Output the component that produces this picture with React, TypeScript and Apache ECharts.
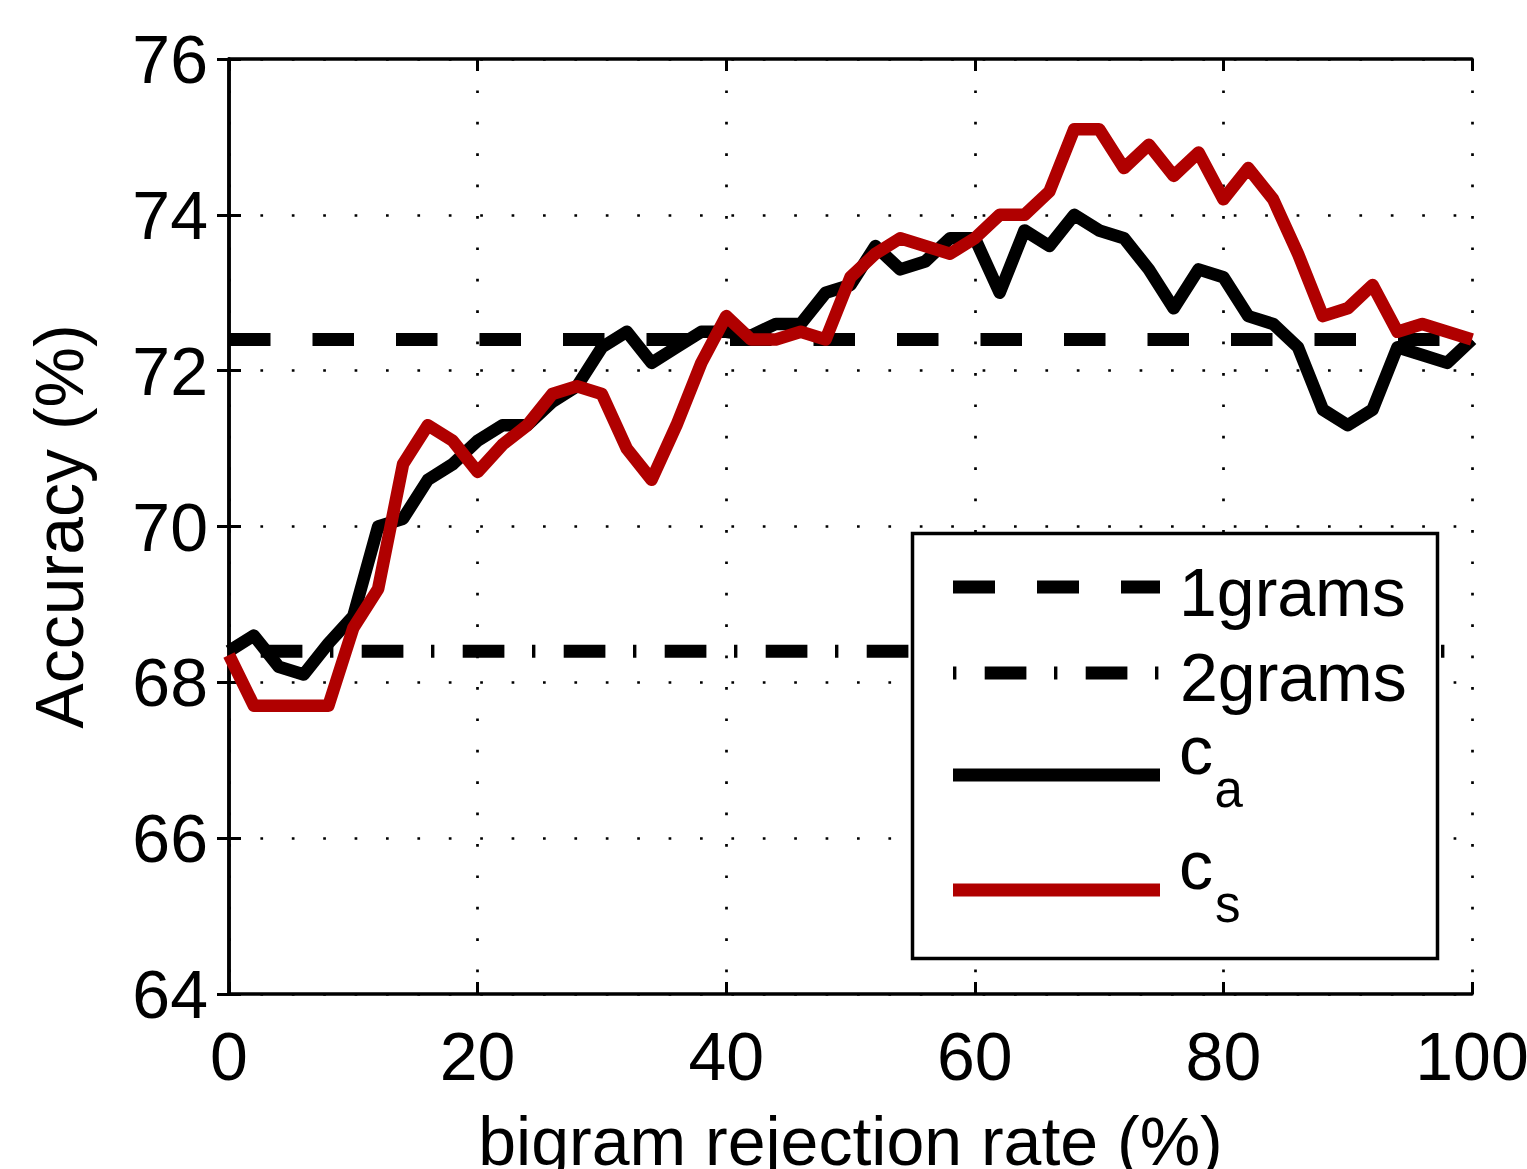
import React, { useEffect, useRef } from "react";
import * as echarts from "echarts";

// bigram rejection rate (%)
const rejectionRates = [
  0, 2, 4, 6, 8, 10, 12, 14, 16, 18, 20, 22, 24, 26, 28, 30, 32, 34, 36, 38, 40,
  42, 44, 46, 48, 50, 52, 54, 56, 58, 60, 62, 64, 66, 68, 70, 72, 74, 76, 78, 80,
  82, 84, 86, 88, 90, 92, 94, 96, 98, 100,
];

// accuracy (%) for c_a
const caValues = [
  68.4, 68.6, 68.2, 68.1, 68.5, 68.85, 70.0, 70.1, 70.6, 70.8, 71.1, 71.3, 71.3,
  71.6, 71.8, 72.3, 72.5, 72.1, 72.3, 72.5, 72.5, 72.45, 72.6, 72.6, 73.0, 73.1,
  73.6, 73.3, 73.4, 73.7, 73.7, 73.0, 73.8, 73.6, 74.0, 73.8, 73.7, 73.3, 72.8,
  73.3, 73.2, 72.7, 72.6, 72.3, 71.5, 71.3, 71.5, 72.3, 72.2, 72.1, 72.4,
];

// accuracy (%) for c_s
const csValues = [
  68.35, 67.7, 67.7, 67.7, 67.7, 68.7, 69.2, 70.8, 71.3, 71.1, 70.7, 71.05, 71.3,
  71.7, 71.8, 71.7, 71.0, 70.6, 71.3, 72.1, 72.7, 72.4, 72.4, 72.5, 72.4, 73.2,
  73.5, 73.7, 73.6, 73.5, 73.7, 74.0, 74.0, 74.3, 75.1, 75.1, 74.6, 74.9, 74.5,
  74.8, 74.2, 74.6, 74.2, 73.5, 72.7, 72.8, 73.1, 72.5, 72.6, 72.5, 72.4,
];

// constant baselines
const baselineNames = ["1grams", "2grams"];
const baselineValues = [72.4, 68.4];
const baselineRange = [0, 100];

const xAxisRange = [0, 100];
const xTickStep = 20;
const yAxisRange = [64, 76];
const yTickStep = 2;

const FONT = "'Liberation Sans', Arial, Helvetica, sans-serif";
const RED = "#b00000";

export default function App() {
  const ref = useRef<HTMLDivElement>(null);

  useEffect(() => {
    document.body.style.margin = "0";
    document.documentElement.style.overflow = "hidden";
    document.body.style.overflow = "hidden";
    if (!ref.current) return;
    const chart = echarts.init(ref.current, undefined, { renderer: "svg" });

    const pairs = (vals: number[]) => rejectionRates.map((x, i) => [x, vals[i]]);
    const flat = (v: number) => baselineRange.map((x) => [x, v]);

    const axisLine = { show: true, lineStyle: { color: "#000", width: 3.5 } };
    const tick = { show: true, inside: true, length: 12, lineStyle: { color: "#000", width: 3 } };
    const dotted = { show: true, lineStyle: { color: "#000", width: 2.7, type: [2.7, 28.7] } };
    const Z = 100;

    const option: any = {
      animation: false,
      backgroundColor: "#fff",
      grid: {
        left: 229,
        top: 59,
        width: 1243,
        height: 935,
        containLabel: false,
        outerBoundsMode: "none",
      },
      xAxis: [
        {
          type: "value",
          min: xAxisRange[0],
          max: xAxisRange[1],
          interval: xTickStep,
          position: "bottom",
          axisLine,
          axisTick: tick,
          splitLine: dotted,
          axisLabel: { color: "#000", fontSize: 68, fontFamily: FONT, margin: 28 },
          name: "bigram rejection rate (%)",
          nameLocation: "middle",
          nameGap: 113,
          nameTextStyle: { color: "#000", fontSize: 68, fontFamily: FONT },
        },
        {
          type: "value",
          min: xAxisRange[0],
          max: xAxisRange[1],
          interval: xTickStep,
          position: "top",
          axisLine,
          axisTick: tick,
          splitLine: { show: false },
          axisLabel: { show: false },
        },
      ],
      yAxis: [
        {
          type: "value",
          min: yAxisRange[0],
          max: yAxisRange[1],
          interval: yTickStep,
          position: "left",
          axisLine,
          axisTick: tick,
          splitLine: dotted,
          axisLabel: { color: "#000", fontSize: 68, fontFamily: FONT, margin: 21 },
          name: "Accuracy (%)",
          nameLocation: "middle",
          nameGap: 136,
          nameTextStyle: { color: "#000", fontSize: 68, fontFamily: FONT },
        },
        {
          type: "value",
          min: yAxisRange[0],
          max: yAxisRange[1],
          interval: yTickStep,
          position: "right",
          axisLine,
          axisTick: tick,
          splitLine: { show: false },
          axisLabel: { show: false },
        },
      ],
      series: [
        {
          name: baselineNames[0],
          type: "line",
          data: flat(baselineValues[0]),
          showSymbol: false,
          symbol: "none",
          lineStyle: { color: "#000", width: 13, type: [41.5, 42], cap: "butt" },
        },
        {
          name: baselineNames[1],
          type: "line",
          data: flat(baselineValues[1]),
          showSymbol: false,
          symbol: "none",
          lineStyle: { color: "#000", width: 13, type: [3.4, 28.3, 41.7, 27.6], cap: "butt" },
        },
        {
          name: "c_a",
          type: "line",
          data: pairs(caValues),
          showSymbol: false,
          symbol: "none",
          lineStyle: { color: "#000", width: 12.5, join: "round", cap: "butt" },
        },
        {
          name: "c_s",
          type: "line",
          data: pairs(csValues),
          showSymbol: false,
          symbol: "none",
          lineStyle: { color: RED, width: 12.5, join: "round", cap: "butt" },
        },
      ],
      graphic: [
        {
          type: "rect",
          z: Z,
          shape: { x: 912.5, y: 533.5, width: 525, height: 425 },
          style: { fill: "#fff", stroke: "#000", lineWidth: 3.5 },
        },
        {
          type: "line",
          z: Z + 1,
          shape: { x1: 953, y1: 587, x2: 1160, y2: 587 },
          style: { stroke: "#000", lineWidth: 13, lineDash: [42, 42], lineCap: "butt" },
        },
        {
          type: "line",
          z: Z + 1,
          shape: { x1: 953, y1: 673, x2: 1160, y2: 673 },
          style: { stroke: "#000", lineWidth: 13, lineDash: [3.4, 28.3, 41.7, 27.6], lineCap: "butt" },
        },
        {
          type: "line",
          z: Z + 1,
          shape: { x1: 953, y1: 775, x2: 1160, y2: 775 },
          style: { stroke: "#000", lineWidth: 13, lineCap: "butt" },
        },
        {
          type: "line",
          z: Z + 1,
          shape: { x1: 953, y1: 890, x2: 1160, y2: 890 },
          style: { stroke: RED, lineWidth: 13, lineCap: "butt" },
        },
        {
          type: "text",
          z: Z + 1,
          x: 1179,
          y: 592,
          style: { text: baselineNames[0], fill: "#000", font: `68px ${FONT}`, verticalAlign: "middle", align: "left" },
        },
        {
          type: "text",
          z: Z + 1,
          x: 1180,
          y: 677,
          style: { text: baselineNames[1], fill: "#000", font: `68px ${FONT}`, verticalAlign: "middle", align: "left" },
        },
        {
          type: "text",
          z: Z + 1,
          x: 1179,
          y: 749.5,
          style: { text: "c", fill: "#000", font: `68px ${FONT}`, verticalAlign: "middle", align: "left" },
        },
        {
          type: "text",
          z: Z + 1,
          x: 1214.5,
          y: 789.6,
          style: { text: "a", fill: "#000", font: `51px ${FONT}`, verticalAlign: "middle", align: "left" },
        },
        {
          type: "text",
          z: Z + 1,
          x: 1179,
          y: 864.7,
          style: { text: "c", fill: "#000", font: `68px ${FONT}`, verticalAlign: "middle", align: "left" },
        },
        {
          type: "text",
          z: Z + 1,
          x: 1215,
          y: 904.6,
          style: { text: "s", fill: "#000", font: `51px ${FONT}`, verticalAlign: "middle", align: "left" },
        },
      ],
    };

    chart.setOption(option);
    return () => chart.dispose();
  }, []);

  return (
    <div
      ref={ref}
      style={{ position: "fixed", left: 0, top: 0, width: 1527, height: 1169 }}
    />
  );
}
